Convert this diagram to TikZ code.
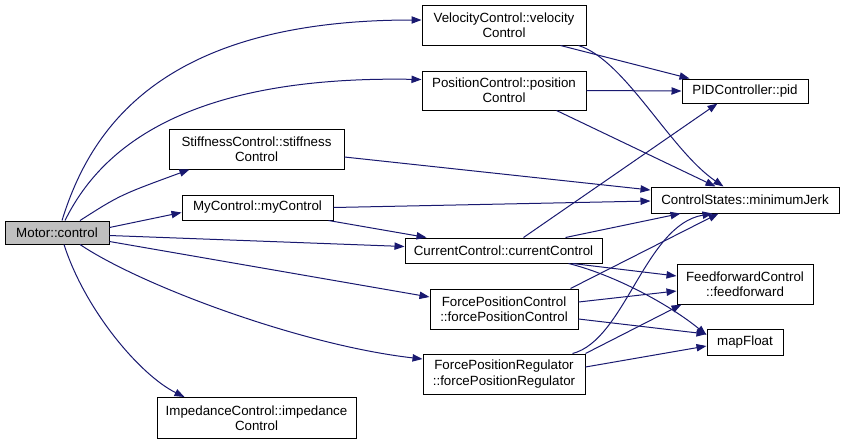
\documentclass[tikz,border=0pt]{standalone}
\usepackage{fontspec}
\setmainfont{Liberation Sans}
\usetikzlibrary{calc,arrows.meta}
\definecolor{edgeblue}{HTML}{191970}
\definecolor{motorgray}{HTML}{BFBFBF}
\begin{document}
\begin{tikzpicture}[x=0.75pt,y=-0.75pt,
  box/.style={draw=black,line width=0.75pt,fill=white,inner sep=0pt,align=center,
    font=\fontsize{10}{11.5}\selectfont},
  e/.style={draw=edgeblue,line width=0.75pt,-{Triangle[length=7.5pt,width=5.5pt]}}]
\useasboundingbox (0,0) rectangle (845,444);
\node[box,fill=motorgray,minimum width=104*0.75pt,minimum height=23*0.75pt] (motor) at (57,232.5) {Motor::control};
\node[box,minimum width=164*0.75pt,minimum height=40*0.75pt] (vel) at (504,25) {VelocityControl::velocity\\Control};
\node[box,minimum width=164*0.75pt,minimum height=39*0.75pt] (pos) at (504,90.5) {PositionControl::position\\Control};
\node[box,minimum width=126*0.75pt,minimum height=24*0.75pt] (pid) at (745,91) {PIDController::pid};
\node[box,minimum width=175*0.75pt,minimum height=40*0.75pt] (stiff) at (256.5,149) {StiffnessControl::stiffness\\Control};
\node[box,minimum width=151*0.75pt,minimum height=25*0.75pt] (my) at (257.5,207.5) {MyControl::myControl};
\node[box,minimum width=188*0.75pt,minimum height=26*0.75pt] (mj) at (745,200) {ControlStates::minimumJerk};
\node[box,minimum width=197*0.75pt,minimum height=25*0.75pt] (cur) at (503.5,250.5) {CurrentControl::currentControl};
\node[box,minimum width=136*0.75pt,minimum height=40*0.75pt] (ff) at (745,284) {FeedforwardControl\\::feedforward};
\node[box,minimum width=148*0.75pt,minimum height=40*0.75pt] (fpc) at (504,309) {ForcePositionControl\\::forcePositionControl};
\node[box,minimum width=76*0.75pt,minimum height=26*0.75pt] (map) at (745,342) {mapFloat};
\node[box,minimum width=162*0.75pt,minimum height=40*0.75pt] (fpr) at (504,374) {ForcePositionRegulator\\::forcePositionRegulator};
\node[box,minimum width=199*0.75pt,minimum height=41*0.75pt] (imp) at (256.5,418) {ImpedanceControl::impedance\\Control};
% edges from Motor::control
\draw[e] ($(motor.north)+(5,0)$) .. controls (90,130) and (160,20) .. ($(vel.west)+(0,-5)$);
\draw[e] ($(motor.north)+(8,0)$) .. controls (95,160) and (170,75) .. ($(pos.west)+(0,-11)$);
\draw[e] ($(motor.north)+(23,0)$) .. controls (120,195) .. ($(stiff.south west)+(21,0)$);
\draw[e] ($(motor.east)+(0,-5)$) -- ($(my.west)+(0,5)$);
\draw[e] ($(motor.east)+(0,3)$) -- ($(cur.west)+(0,-4)$);
\draw[e] ($(motor.east)+(0,9)$) -- ($(fpc.west)+(0,-12)$);
\draw[e] ($(motor.south)+(23,0)$) .. controls (140,285) and (300,345) .. ($(fpr.west)+(0,-15)$);
\draw[e] ($(motor.south)+(7,0)$) .. controls (85,310) and (140,375) .. ($(imp.north west)+(28,0)$);
% second level
\draw[e] ($(vel.south east)+(-26,0)$) -- ($(pid.north west)+(8,0)$);
\draw[e] ($(vel.south east)+(-8,0)$) .. controls (625,60) and (670,150) .. ($(mj.north west)+(73,0)$);
\draw[e] (pos.east) -- (pid.west);
\draw[e] ($(pos.south east)+(-30,0)$) -- ($(mj.north west)+(65,0)$);
\draw[e] ($(stiff.east)+(0,8)$) -- ($(mj.west)+(0,-10)$);
\draw[e] (my.east) -- ($(mj.west)+(0,1)$);
\draw[e] ($(my.south east)+(-5,0)$) -- ($(cur.north west)+(22,0)$);
\draw[e] ($(cur.north)+(20,0)$) -- ($(pid.south west)+(36,0)$);
\draw[e] ($(cur.north)+(62,0)$) -- ($(mj.south west)+(30,0)$);
\draw[e] ($(cur.south east)+(-30,0)$) -- ($(ff.west)+(0,-8)$);
\draw[e] ($(cur.south east)+(-34,0)$) .. controls (615,275) and (670,305) .. ($(map.west)+(0,-7)$);
\draw[e] ($(fpc.north east)+(-8,0)$) -- ($(mj.south west)+(68,0)$);
\draw[e] ($(fpc.east)+(0,-7)$) -- ($(ff.west)+(0,7)$);
\draw[e] ($(fpc.east)+(0,10)$) -- ($(map.west)+(0,-8)$);
\draw[e] ($(fpr.north east)+(-13,0)$) .. controls (625,340) and (645,225) .. ($(mj.south west)+(62,0)$);
\draw[e] (fpr.north east) -- ($(ff.south west)+(5,0)$);
\draw[e] ($(fpr.east)+(0,-7)$) -- ($(map.west)+(0,4)$);
\end{tikzpicture}
\end{document}
